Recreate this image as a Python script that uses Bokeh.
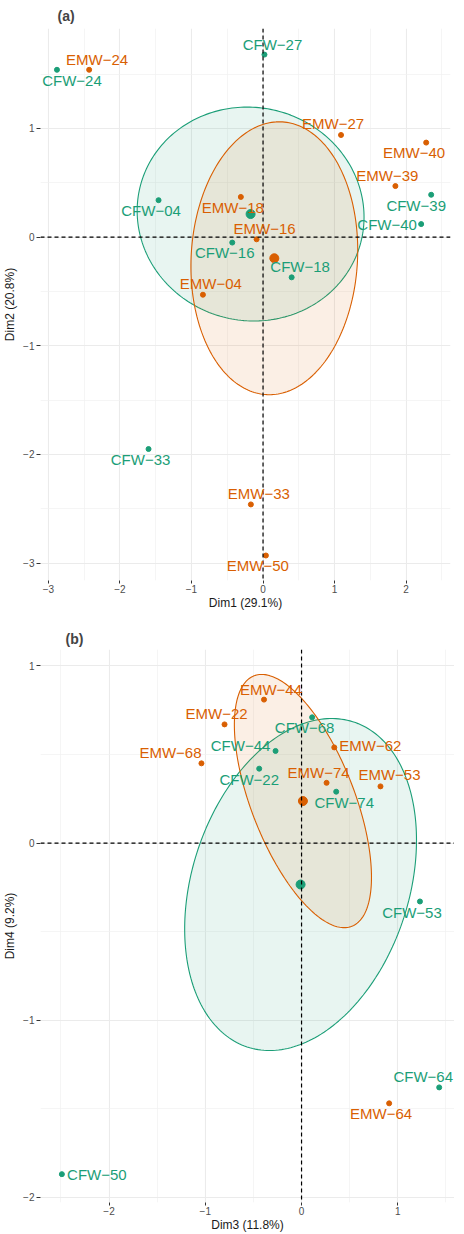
import numpy as np
from bokeh.plotting import figure
from bokeh.models import ColumnDataSource, Span, FixedTicker, Range1d, LabelSet
from bokeh.layouts import column
from bokeh.embed import file_html
from bokeh.resources import INLINE
from bokeh.core.properties import value

CFW_COLOR = "#1B9E77"
EMW_COLOR = "#D95F02"
FONT = "Liberation Sans"

# ---------------- panel (a) data: Dim1 / Dim2 ----------------
a_cfw_names = ["CFW−27", "CFW−24", "CFW−39", "CFW−40", "CFW−04", "CFW−16", "CFW−18", "CFW−33"]
a_cfw_dim1 = [0.02, -2.88, 2.35, 2.21, -1.46, -0.43, 0.40, -1.60]
a_cfw_dim2 = [1.68, 1.54, 0.39, 0.12, 0.34, -0.05, -0.37, -1.95]
a_emw_names = ["EMW−24", "EMW−27", "EMW−40", "EMW−39", "EMW−18", "EMW−16", "EMW−04", "EMW−33", "EMW−50"]
a_emw_dim1 = [-2.43, 1.09, 2.28, 1.85, -0.31, -0.09, -0.84, -0.17, 0.04]
a_emw_dim2 = [1.54, 0.94, 0.87, 0.47, 0.37, -0.02, -0.53, -2.46, -2.93]
a_xticks = [-3, -2, -1, 0, 1, 2]
a_xtick_labels = ["−3", "−2", "−1", "0", "1", "2"]
a_yticks = [-3, -2, -1, 0, 1]
a_ytick_labels = ["−3", "−2", "−1", "0", "1"]

# ---------------- panel (b) data: Dim3 / Dim4 ----------------
b_cfw_names = ["CFW−68", "CFW−44", "CFW−22", "CFW−74", "CFW−53", "CFW−64", "CFW−50"]
b_cfw_dim3 = [0.11, -0.27, -0.44, 0.36, 1.23, 1.43, -2.49]
b_cfw_dim4 = [0.71, 0.52, 0.42, 0.29, -0.33, -1.38, -1.87]
b_emw_names = ["EMW−44", "EMW−22", "EMW−62", "EMW−68", "EMW−74", "EMW−53", "EMW−64"]
b_emw_dim3 = [-0.39, -0.80, 0.34, -1.04, 0.26, 0.82, 0.91]
b_emw_dim4 = [0.81, 0.67, 0.54, 0.45, 0.34, 0.32, -1.47]
b_xticks = [-2, -1, 0, 1]
b_xtick_labels = ["−2", "−1", "0", "1"]
b_yticks = [-2, -1, 0, 1]
b_ytick_labels = ["−2", "−1", "0", "1"]

# label placement offsets (screen px, dx right / dy up) -- styling only
a_cfw_dx = [8, 15, -15, -34, -7.5, -7.5, 8.5, -8]
a_cfw_dy = [10.5, -11, -10.5, 0, -10, -10, 11, -10.5]
a_emw_dx = [8, -8, -12, -8, -8, 8, 8, 8, -8]
a_emw_dy = [10, 11, -10, 10.5, -10.5, 10.5, 11, 10.5, -10]
b_cfw_dx = [-7.5, -35, -10, 8, -8, -16, 35]
b_cfw_dy = [-10, 5, -10.5, -11, -11, 10.5, 0]
b_emw_dx = [7, -8, 36, -31, -8, 9, -8]
b_emw_dy = [10, 11, 1.5, 10.5, 10.5, 11.5, -10]


def conf_ellipse(x, y, level=0.95, npts=240):
    x = np.asarray(x, float)
    y = np.asarray(y, float)
    n = len(x)
    cov = np.cov(x, y) / n
    c = -2.0 * np.log(1.0 - level)  # chi-square quantile, 2 df
    L = np.linalg.cholesky(cov)
    t = np.linspace(0, 2 * np.pi, npts)
    pts = np.sqrt(c) * (L @ np.vstack([np.cos(t), np.sin(t)]))
    return x.mean() + pts[0], y.mean() + pts[1]


def make_panel(title, xlab, ylab, xr, yr, xticks, xtl, yticks, ytl,
               groups, fw, fh, borders, title_offset, title_standoff, ystand):
    p = figure(frame_width=fw, frame_height=fh, output_backend="svg", toolbar_location=None,
               x_range=Range1d(*xr), y_range=Range1d(*yr),
               min_border_left=borders[0], min_border_right=borders[1],
               min_border_top=borders[2], min_border_bottom=borders[3])
    p.outline_line_color = None
    p.background_fill_color = "white"
    p.border_fill_color = "white"
    p.title.text = title
    p.title.text_font = FONT
    p.title.text_font_size = "14px"
    p.title.text_font_style = "bold"
    p.title.align = "left"
    p.title.offset = title_offset
    p.title.standoff = title_standoff

    xminor = [v + 0.5 for v in range(-4, 3)]
    yminor = [v + 0.5 for v in range(-4, 3)]
    p.xaxis.ticker = FixedTicker(ticks=xticks, minor_ticks=xminor)
    p.yaxis.ticker = FixedTicker(ticks=yticks, minor_ticks=yminor)
    p.xaxis.major_label_overrides = dict(zip(xticks, xtl))
    p.yaxis.major_label_overrides = dict(zip(yticks, ytl))
    for ax in (p.xaxis, p.yaxis):
        ax.axis_line_color = None
        ax.major_tick_line_color = "#333333"
        ax.major_tick_out = 3
        ax.major_tick_in = 0
        ax.minor_tick_line_color = None
        ax.major_label_text_font = FONT
        ax.major_label_text_font_size = "10px"
        ax.major_label_text_color = "#4D4D4D"
        ax.axis_label_text_font = FONT
        ax.axis_label_text_font_size = "12px"
        ax.axis_label_text_font_style = "normal"
        ax.axis_label_text_color = "#1A1A1A"
    p.xaxis.major_label_standoff = 0
    p.xaxis.axis_label_standoff = 0
    p.yaxis.major_tick_out = ystand[0]
    p.yaxis.major_label_standoff = ystand[1]
    p.yaxis.axis_label_standoff = ystand[2]
    p.xaxis.axis_label = xlab
    p.yaxis.axis_label = ylab
    for g in (p.xgrid, p.ygrid):
        g.grid_line_color = "#EBEBEB"
        g.grid_line_width = 1.1
        g.minor_grid_line_color = "#F0F0F0"
        g.minor_grid_line_width = 0.7

    # confidence ellipses computed from the group points
    for (names, xs, ys, dx, dy, color) in groups:
        ex, ey = conf_ellipse(xs, ys)
        p.patch(ex, ey, fill_color=color, fill_alpha=0.1, line_color=color, line_width=1.1)

    p.add_layout(Span(location=0, dimension="width", line_color="black",
                      line_width=1.2, line_dash="4 3"))
    p.add_layout(Span(location=0, dimension="height", line_color="black",
                      line_width=1.2, line_dash="4 3"))

    for (names, xs, ys, dx, dy, color) in groups:
        src = ColumnDataSource(dict(x=xs, y=ys, name=names, dx=dx, dy=dy))
        p.scatter("x", "y", source=src, size=5, color=color)
        p.scatter([float(np.mean(xs))], [float(np.mean(ys))], size=9, color=color)
        labels = LabelSet(x="x", y="y", text="name", source=src,
                          x_offset="dx", y_offset="dy",
                          text_align="center", text_baseline="middle",
                          text_font=value(FONT), text_font_size="15px", text_color=color)
        p.add_layout(labels)
    return p


pa = make_panel("(a)", "Dim1 (29.1%)", "Dim2 (20.8%)", (-3.11, 2.62), (-3.16, 1.92),
                a_xticks, a_xtick_labels, a_yticks, a_ytick_labels,
                [(a_cfw_names, a_cfw_dim1, a_cfw_dim2, a_cfw_dx, a_cfw_dy, CFW_COLOR),
                 (a_emw_names, a_emw_dim1, a_emw_dim2, a_emw_dx, a_emw_dy, EMW_COLOR)],
                410, 552, (30, 4, 20, 27), 17, 9.5, (4, 2, 3))

pb = make_panel("(b)", "Dim3 (11.8%)", "Dim4 (9.2%)", (-2.712, 1.589), (-2.03, 1.093),
                b_xticks, b_xtick_labels, b_yticks, b_ytick_labels,
                [(b_cfw_names, b_cfw_dim3, b_cfw_dim4, b_cfw_dx, b_cfw_dy, CFW_COLOR),
                 (b_emw_names, b_emw_dim3, b_emw_dim4, b_emw_dx, b_emw_dy, EMW_COLOR)],
                414, 553, (30, 0, 37, 27), 25, 5, (4, 2, 3))

layout = column(pa, pb, spacing=0)
open("out.html", "w").write(file_html(layout, INLINE))
